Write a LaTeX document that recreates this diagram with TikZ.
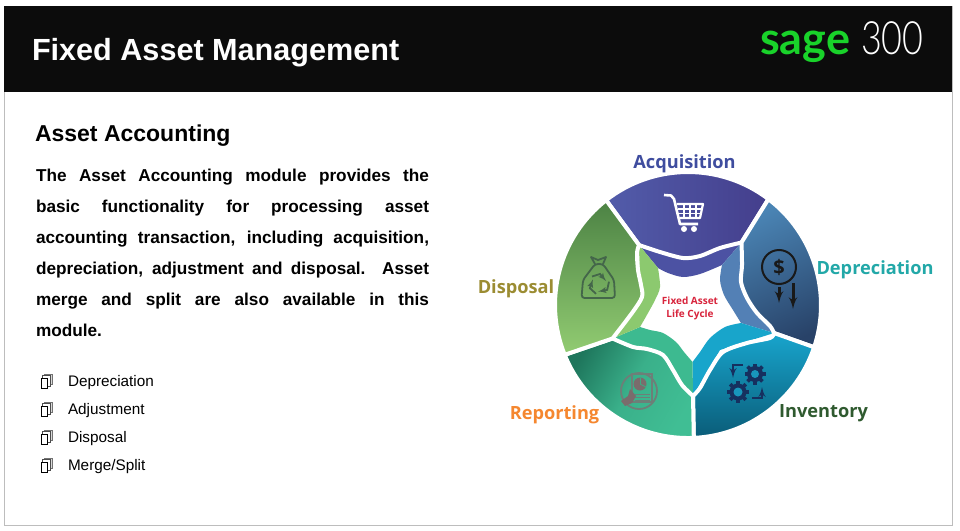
\documentclass[tikz,border=0pt]{standalone}
\usepackage{fontspec}
\setmainfont{Liberation Sans}
\newfontfamily\labelfont{Open Sans}
\newfontfamily\logofont{Lato}
\newfontfamily\thinfont{Lato Light}
\usepackage{tikz}
\usetikzlibrary{arrows,calc}

\definecolor{headblack}{HTML}{0C0C0C}
\definecolor{framegray}{HTML}{BDBDBD}
\definecolor{sagegreen}{HTML}{19D22A}
\definecolor{acqtext}{HTML}{3F4D9F}
\definecolor{deptext}{HTML}{22A8A8}
\definecolor{invtext}{HTML}{2F5A2F}
\definecolor{reptext}{HTML}{F5872F}
\definecolor{distext}{HTML}{9B8C32}
\definecolor{startext}{HTML}{D8243C}
\definecolor{navyicon}{HTML}{16305F}
\definecolor{bagicon}{HTML}{44664A}
\definecolor{reporticon}{HTML}{6D7F78}
\definecolor{handicon}{HTML}{7A6C6C}
\definecolor{acqband}{HTML}{4C52A3}
\definecolor{depband}{HTML}{5380B5}
\definecolor{invband}{HTML}{18A5CB}
\definecolor{repband}{HTML}{3DBA90}
\definecolor{disband}{HTML}{8CC96F}
\definecolor{gearhole}{HTML}{1896BC}
\definecolor{piemark}{HTML}{3DAA82}

\tikzset{
  every node/.style={inner sep=0pt, outer sep=0pt},
  seglabel/.style={font=\labelfont\bfseries\fontsize{18.2}{20}\selectfont},
  wedge/.style={draw=white, line width=4pt, line join=round},
}

\begin{document}
\begin{tikzpicture}[x=1pt, y=-1pt, >=latex']
\useasboundingbox (0,0) rectangle (960,530);

\draw [framegray, fill=white] (4,6) rectangle (952,525);
\fill [headblack] (4,6) rectangle (952,92);

\node [anchor=base west, text=white, font=\bfseries\fontsize{30.6}{33}\selectfont] at (32,60) (title) {Fixed Asset Management};
\node [anchor=base east, text=sagegreen, font=\logofont\bfseries\fontsize{45}{50}\selectfont] at (850,54) (sage) {sage};
\node [anchor=base west, text=white, font=\thinfont\fontsize{46}{50}\selectfont, xscale=.78, transform shape] at (861,54) (three) {300};

\node [anchor=base west, font=\bfseries\fontsize{23}{25}\selectfont] at (35,141) (head) {Asset Accounting};
\node [anchor=north west, text width=393pt, align=justify, font=\bfseries\fontsize{17.2}{31}\selectfont] at (36,169) (body)
  {The Asset Accounting module provides the\linebreak
   basic functionality for processing asset\linebreak
   accounting transaction, including acquisition,\linebreak
   depreciation, adjustment and disposal. Asset\linebreak
   merge and split are also available in this\linebreak
   module.};

% list
\foreach \y/\nm/\txt in {381/depitem/Depreciation, 409/adjitem/Adjustment, 437/disitem/Disposal, 465/mrgitem/{Merge/Split}} {
  \draw [black!55, fill=black!15] (44,\y-7) rectangle (52,\y+3);
  \draw [black!70, fill=white] (42.5,\y-5.5) rectangle (50,\y+5);
  \draw [black, fill=white, line width=.9pt] (41,\y-2.5) rectangle (47,\y+7);
  \node [anchor=west, font=\fontsize{15.3}{17}\selectfont] at (68,\y+1.5) (\nm) {\txt};
}

% corners of the wheel
\coordinate (ad) at (606.1,200.2);
\coordinate (ap) at (768.4,199.1);
\coordinate (pi) at (814.1,347.2);
\coordinate (ir) at (693.8,437.9);
\coordinate (rd) at (564.7,354.8);
\coordinate (inad) at (639,245);
\coordinate (inap) at (741.5,242.5);
\coordinate (inpi) at (774,333);
\coordinate (inir) at (693,396);
\coordinate (inrd) at (612.5,338.5);

% inner bands
\fill [acqband] (inad) -- plot [smooth] coordinates {(658,268) (668,273) (683,277) (700,274) (722,265)} -- (inap) -- (700,250) -- cycle;
\fill [depband] (inap) -- plot [smooth] coordinates {(722,265) (720,280) (724,295) (733,310) (741,323)} -- (inpi) -- (750,290) -- cycle;
\fill [invband] (inpi) -- plot [smooth] coordinates {(741,323) (725,327) (710,338) (700,352) (692.5,362)} -- (inir) -- (720,350) -- cycle;
\fill [repband] (inir) -- plot [smooth] coordinates {(692.5,362) (684,352) (676,342) (663,333) (650,330) (640,327)} -- (inrd) -- (660,355) -- cycle;
\fill [disband] (inrd) -- plot [smooth] coordinates {(640,327) (648,313) (655,300) (660,287) (658,268)} -- (inad) -- (640,290) -- cycle;

% the five parts of the wheel
\draw [wedge, left color={rgb,255:red,82;green,92;blue,170}, right color={rgb,255:red,68;green,62;blue,140}]
  (ad) arc [start angle=128, end angle=52.8, radius=133pt] -- plot [smooth] coordinates {(inap) (720,248) (700,256) (683,258) (660,252) (inad)} -- cycle;
\draw [wedge, top color={rgb,255:red,74;green,132;blue,180}, bottom color={rgb,255:red,40;green,66;blue,104}, shading angle=25]
  (ap) arc [start angle=52.8, end angle=-18.5, radius=133pt] -- plot [smooth] coordinates {(inpi) (770,326) (757,313) (747,298) (741,282) (742,265) (inap)} -- cycle;
\draw [wedge, top color={rgb,255:red,24;green,165;blue,205}, bottom color={rgb,255:red,10;green,92;blue,120}]
  (pi) arc [start angle=-18.5, end angle=-87.5, radius=133pt] -- plot [smooth] coordinates {(inir) (700,388) (710,370) (723,352) (747,343) (770,338) (inpi)} -- cycle;
\draw [wedge, left color={rgb,255:red,30;green,118;blue,92}, right color={rgb,255:red,64;green,190;blue,148}, middle color={rgb,255:red,58;green,176;blue,138}, shading angle=60]
  (ir) arc [start angle=-87.5, end angle=-158, radius=133pt] -- plot [smooth] coordinates {(inrd) (633,347) (647,349) (663,355) (673,370) (682,385) (inir)} -- cycle;
\draw [wedge, top color={rgb,255:red,76;green,130;blue,68}, bottom color={rgb,255:red,146;green,204;blue,114}]
  (rd) arc [start angle=202, end angle=128, radius=133pt] -- plot [smooth] coordinates {(inad) (637,253) (638,270) (641,285) (642,297) (632,313) (inrd)} -- cycle;

% labels
\node [seglabel, text=acqtext] at (684.5,164) (acqlabel) {Acquisition};
\node [seglabel, text=deptext] at (875,270) (deplabel) {Depreciation};
\node [seglabel, text=invtext] at (823.5,413) (invlabel) {Inventory};
\node [seglabel, text=reptext] at (554.5,415) (replabel) {Reporting};
\node [seglabel, text=distext] at (516,289) (dislabel) {Disposal};
\node [text=startext, align=center, font=\labelfont\bfseries\fontsize{10}{13}\selectfont] at (690,308.5) (centerlabel) {Fixed Asset\\Life Cycle};

% cart
\draw [white, line width=2.6pt, line join=round] (664,195) -- (671,195.5) -- (674,199) -- (680,224) -- (698,224);
\draw [white, line width=2.2pt, line join=round] (676.5,204) -- (703,204) -- (700,218) -- (679.5,218);
\foreach \x in {684,690,696} \draw [white, line width=1.1pt] (\x,204) -- (\x,218);
\draw [white, line width=1.1pt] (678,209) -- (702,209);
\draw [white, line width=1.1pt] (679,213.5) -- (701,213.5);
\fill [white] (684,229) circle (3);
\fill [white] (694,229) circle (3);

% bag
\draw [bagicon, line width=1.8pt, line join=round, rounded corners=3pt] (595,264) -- (583,280) -- (581.5,298) -- (615,298) -- (614,280) -- (603,264) -- cycle;
\draw [bagicon, line width=1.8pt, line join=round] (595,264) -- (591,257) -- (598,260) -- (606,257) -- (603,264);
\foreach \a in {0,120,240} {
  \begin{scope}[shift={(599,284)}, rotate=\a]
  \draw [->, bagicon, line width=1.8pt] (-7,-7.5) -- (1,-10) -- (7,-3);
  \end{scope}
}

% dollar
\draw [black!90, line width=2pt] (779,267) circle (17);
\node [text=black!90, font=\labelfont\bfseries\fontsize{20}{22}\selectfont] at (779,267) (dollar) {\$};
\coordinate (smalltop) at (779,287);
\coordinate (smallend) at (779,303);
\coordinate (bigtop) at (793,283);
\coordinate (bigend) at (793,309);
\draw [->, black!90, line width=3pt] (smalltop) -- (smallend);
\draw [->, black!90, line width=3pt] (bigtop) -- (bigend);

% gears
\foreach \cx/\cy/\r in {755/374/8, 738/392/8.5} {
  \foreach \a in {0,45,...,315}
    \draw [navyicon, line width=3.6pt] (\cx,\cy) -- ++(\a:\r+2.5);
  \fill [navyicon] (\cx,\cy) circle (\r);
  \fill [gearhole] (\cx,\cy) circle (\r-4);
}
\coordinate (loopa) at (743,365);
\coordinate (loopb) at (733,365);
\coordinate (loopc) at (733,378);
\coordinate (loopd) at (752,398);
\coordinate (loope) at (762,398);
\coordinate (loopf) at (762,387);
\draw [->, navyicon, line width=2.4pt] (loopa) -- (loopb) -- (loopc);
\draw [->, navyicon, line width=2.4pt] (loopd) -- (loope) -- (loopf);

% report
\draw [reporticon, line width=1.8pt] (639,391) circle (18);
\draw [reporticon, line width=1.1pt] (632,374) rectangle (652,402);
\fill [handicon] (640,384) circle (6.5);
\draw [piemark, line width=.8pt] (640,384) -- (640,377.5);
\draw [piemark, line width=.8pt] (640,384) -- (646,387);
\foreach \y in {394,397,400} \draw [reporticon, line width=.9pt] (635,\y) -- (650,\y);
\fill [handicon] (630,389) -- (628,396) -- (621,401) -- (625,406) -- (632,403) -- (636,396) -- cycle;

\end{tikzpicture}
\end{document}
